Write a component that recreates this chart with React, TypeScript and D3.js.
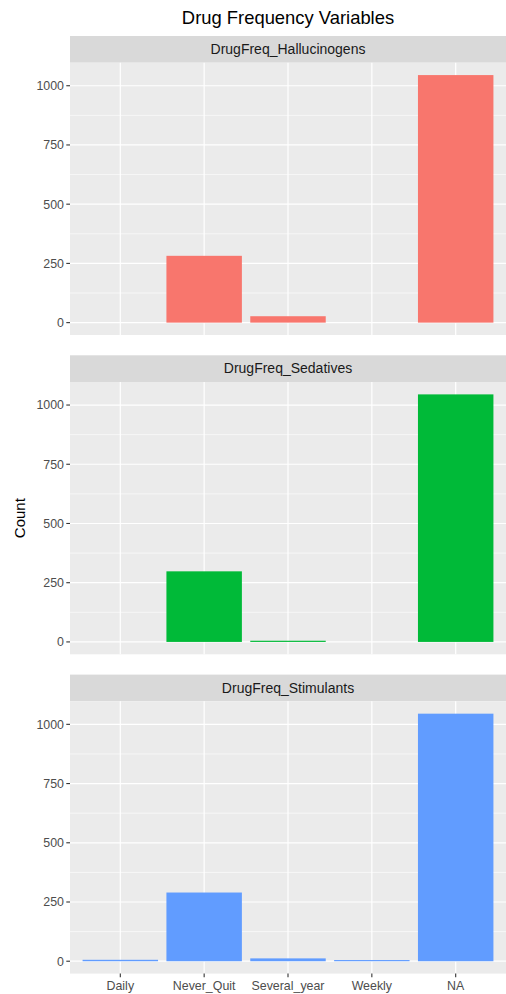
import React from "react";
import * as d3 from "d3";

// Frequency categories on the x axis
const categories = ["Daily", "Never_Quit", "Several_year", "Weekly", "NA"];

// One facet per drug variable
const facetNames = ["DrugFreq_Hallucinogens", "DrugFreq_Sedatives", "DrugFreq_Stimulants"];

// Counts per category, in category order (null = category absent)
const hallucinogenCounts = [null, 282, 27, null, 1045];
const sedativeCounts = [null, 298, 5, null, 1045];
const stimulantCounts = [6, 290, 12, 5, 1045];

const yTicks = [0, 250, 500, 750, 1000];
const fillColors = ["#F8766D", "#00BA38", "#619CFF"];

const W = 506;
const H = 994;
const FONT = "'Liberation Sans', Arial, Helvetica, sans-serif";

export default function App() {
  const series = [hallucinogenCounts, sedativeCounts, stimulantCounts];
  const maxVal = d3.max(series.flat().map((v) => v ?? 0)) ?? 0;

  const left = 70;
  const right = 506;
  const stripH = 26.7;
  const panelH = 272.3;
  const gap = 20.3;
  const top0 = 36;

  const x = d3.scalePoint<string>().domain(categories).range([left, right]).padding(0.6);
  const barW = x.step() * 0.9;

  const panels = facetNames.map((name, i) => {
    const stripTop = top0 + i * (stripH + panelH + gap);
    const panelTop = stripTop + stripH;
    const panelBottom = panelTop + panelH;
    const y = d3
      .scaleLinear()
      .domain([-0.05 * maxVal, 1.05 * maxVal])
      .range([panelBottom, panelTop]);
    return { name, i, stripTop, panelTop, panelBottom, y };
  });

  const minorTicks = yTicks.slice(0, -1).map((t, k) => (t + yTicks[k + 1]) / 2);

  return (
    <svg width={W} height={H} style={{ position: "absolute", left: 0, top: 0, background: "#fff" }}>
      <text x={(left + right) / 2} y={24} textAnchor="middle" fontFamily={FONT} fontSize={18.4} fill="#000">
        Drug Frequency Variables
      </text>
      <text
        transform={`translate(25, ${(panels[0].panelTop + panels[2].panelBottom) / 2}) rotate(-90)`}
        textAnchor="middle"
        fontFamily={FONT}
        fontSize={15}
        fill="#000"
      >
        Count
      </text>
      {panels.map((p) => {
        const vals = series[p.i];
        return (
          <g key={p.name}>
            <rect x={left} y={p.stripTop} width={right - left} height={stripH} fill="#D9D9D9" />
            <text
              x={(left + right) / 2}
              y={p.stripTop + stripH / 2 + 4.8}
              textAnchor="middle"
              fontFamily={FONT}
              fontSize={14}
              fill="#1A1A1A"
            >
              {p.name}
            </text>
            <rect x={left} y={p.panelTop} width={right - left} height={panelH} fill="#EBEBEB" />
            {minorTicks.map((t) => (
              <line key={"m" + t} x1={left} x2={right} y1={p.y(t)} y2={p.y(t)} stroke="#fff" strokeWidth={0.6} />
            ))}
            {yTicks.map((t) => (
              <line key={"g" + t} x1={left} x2={right} y1={p.y(t)} y2={p.y(t)} stroke="#fff" strokeWidth={1.2} />
            ))}
            {categories.map((c) => (
              <line key={"v" + c} x1={x(c)} x2={x(c)} y1={p.panelTop} y2={p.panelBottom} stroke="#fff" strokeWidth={1.2} />
            ))}
            {categories.map((c, k) => {
              const v = vals[k];
              if (v == null) return null;
              const y0 = p.y(0);
              const y1 = p.y(v);
              return (
                <rect
                  key={"b" + c}
                  x={(x(c) ?? 0) - barW / 2}
                  y={y1}
                  width={barW}
                  height={Math.max(y0 - y1, 0)}
                  fill={fillColors[p.i]}
                />
              );
            })}
            {yTicks.map((t) => (
              <g key={"t" + t}>
                <line x1={left - 3.7} x2={left} y1={p.y(t)} y2={p.y(t)} stroke="#333333" strokeWidth={1.1} />
                <text
                  x={left - 6}
                  y={p.y(t) + 4.4}
                  textAnchor="end"
                  fontFamily={FONT}
                  fontSize={12.4}
                  fill="#4D4D4D"
                >
                  {t}
                </text>
              </g>
            ))}
            {p.i === 2 &&
              categories.map((c) => (
                <g key={"x" + c}>
                  <line x1={x(c)} x2={x(c)} y1={p.panelBottom} y2={p.panelBottom + 3.7} stroke="#333333" strokeWidth={1.1} />
                  <text
                    x={x(c)}
                    y={p.panelBottom + 16.3}
                    textAnchor="middle"
                    fontFamily={FONT}
                    fontSize={12.4}
                    fill="#4D4D4D"
                  >
                    {c}
                  </text>
                </g>
              ))}
          </g>
        );
      })}
    </svg>
  );
}
